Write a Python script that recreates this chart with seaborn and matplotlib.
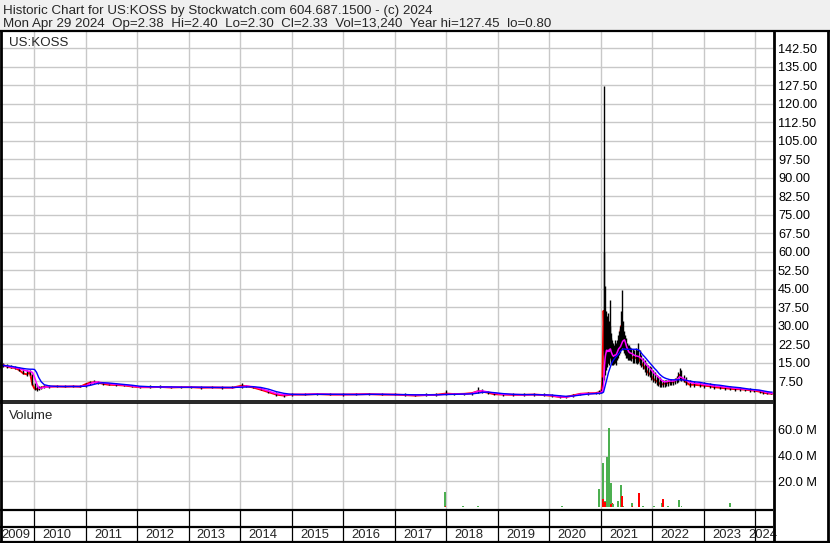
# Historic price / volume chart for US:KOSS (Stockwatch style)

import numpy as np
import pandas as pd
import matplotlib
matplotlib.use('Agg')
import matplotlib.pyplot as plt
import seaborn as sns

# ------------------------------------------------------
# DATA (decimal years, prices in $, volume in millions)
# ------------------------------------------------------

price_t = [2009.34, 2009.40, 2009.47, 2009.55, 2009.63, 2009.71, 2009.79, 2009.86, 2009.92, 2009.97,
           2010.01, 2010.05, 2010.09, 2010.14, 2010.20, 2010.30, 2010.45, 2010.60, 2010.75, 2010.90,
           2011.00, 2011.08, 2011.17, 2011.25, 2011.33, 2011.45, 2011.60, 2011.75, 2011.90,
           2012.05, 2012.25, 2012.45, 2012.65, 2012.85, 2013.05, 2013.25, 2013.45, 2013.65, 2013.85,
           2014.03, 2014.12, 2014.25, 2014.40, 2014.55, 2014.70, 2014.85,
           2015.00, 2015.25, 2015.50, 2015.75, 2016.00, 2016.25, 2016.50, 2016.75,
           2017.00, 2017.20, 2017.40, 2017.60, 2017.80, 2017.99,
           2018.15, 2018.35, 2018.50, 2018.62, 2018.70, 2018.80, 2018.92,
           2019.10, 2019.30, 2019.50, 2019.70, 2019.90,
           2020.05, 2020.20, 2020.32, 2020.45, 2020.60, 2020.75, 2020.90, 2020.97,
           2021.01, 2021.03, 2021.052, 2021.062, 2021.071, 2021.081, 2021.090, 2021.100, 2021.110,
           2021.120, 2021.129, 2021.139, 2021.148, 2021.158, 2021.168, 2021.178, 2021.187, 2021.197,
           2021.207, 2021.226, 2021.245, 2021.265, 2021.284, 2021.304, 2021.323, 2021.343, 2021.362,
           2021.382, 2021.401, 2021.420, 2021.440, 2021.459, 2021.478, 2021.498, 2021.517, 2021.537,
           2021.556, 2021.585, 2021.614, 2021.643, 2021.672, 2021.701, 2021.730, 2021.750, 2021.780,
           2021.810, 2021.847, 2021.880, 2021.910, 2021.944, 2021.980,
           2022.010, 2022.041, 2022.080, 2022.110, 2022.138, 2022.170, 2022.200, 2022.235, 2022.270,
           2022.300, 2022.332, 2022.370, 2022.400, 2022.429, 2022.470, 2022.500, 2022.526, 2022.560,
           2022.604, 2022.650, 2022.720, 2022.800, 2022.914,
           2023.010, 2023.108, 2023.200, 2023.302, 2023.400, 2023.497, 2023.600, 2023.691, 2023.790,
           2023.885, 2023.980, 2024.079, 2024.150, 2024.230, 2024.300, 2024.325]

price_hi = [15.3, 15.0, 14.6, 14.2, 13.8, 13.2, 12.4, 11.8, 12.0, 10.5,
            6.8, 5.8, 5.4, 5.6, 5.8, 5.8, 5.9, 5.8, 5.9, 5.8,
            6.6, 7.4, 7.8, 7.6, 7.2, 6.8, 6.6, 6.4, 6.0,
            5.6, 5.7, 5.8, 5.6, 5.5, 5.6, 5.6, 5.5, 5.4, 5.4,
            6.6, 6.0, 5.6, 5.0, 4.0, 3.0, 2.4,
            2.6, 2.6, 2.8, 2.5, 2.6, 2.6, 2.7, 2.6,
            2.6, 2.6, 2.4, 2.5, 2.6, 3.8,
            2.8, 2.8, 3.2, 5.2, 4.2, 3.6, 2.8,
            2.6, 2.5, 2.6, 2.8, 2.7,
            2.4, 1.8, 1.6, 2.2, 2.8, 3.0, 3.2, 4.0,
            4.2, 9.0, 127.45, 60.0, 46.0, 32.0, 28.0, 36.0, 34.0,
            30.0, 35.0, 28.0, 26.0, 32.0, 40.5, 30.0, 27.0, 25.0,
            24.0, 23.0, 22.0, 24.0, 23.0, 24.0, 26.0, 28.0, 30.0,
            36.0, 44.4, 32.0, 28.0, 26.0, 25.0, 23.0, 22.0, 22.0,
            21.5, 21.0, 20.5, 20.0, 21.0, 20.0, 22.8, 20.0, 18.0,
            17.0, 16.0, 15.0, 14.0, 13.5, 13.0,
            12.0, 11.0, 10.0, 9.5, 9.0, 8.5, 8.0, 8.0, 7.8,
            8.0, 8.5, 8.2, 8.0, 8.6, 9.5, 11.0, 12.6, 12.0,
            10.0, 9.0, 8.0, 7.5, 7.2,
            7.0, 6.6, 6.4, 6.0, 5.6, 5.4, 5.0, 5.2, 4.8,
            4.8, 4.4, 4.0, 3.6, 3.0, 2.6, 2.40]

price_lo = [12.8, 13.2, 12.9, 12.6, 12.5, 11.6, 10.2, 9.6, 10.0, 5.8,
            4.0, 3.6, 3.8, 4.4, 4.8, 4.8, 5.0, 4.9, 5.0, 5.0,
            5.2, 6.0, 6.6, 6.4, 6.0, 5.8, 5.6, 5.4, 5.0,
            4.6, 4.8, 4.7, 4.6, 4.7, 4.7, 4.4, 4.5, 4.4, 4.5,
            4.8, 5.0, 4.6, 3.8, 2.6, 1.6, 1.2,
            1.6, 1.7, 1.8, 1.7, 1.6, 1.8, 1.8, 1.7,
            1.7, 1.5, 1.3, 1.4, 1.5, 1.8,
            1.8, 1.9, 2.0, 2.8, 2.8, 2.4, 1.8,
            1.6, 1.5, 1.5, 1.6, 1.4,
            1.2, 0.8, 0.8, 1.0, 1.8, 2.0, 2.2, 2.4,
            2.6, 3.5, 8.0, 18.0, 10.0, 12.0, 12.0, 14.0, 16.0,
            13.0, 15.0, 15.0, 14.0, 16.0, 18.0, 17.0, 16.0, 15.0,
            14.0, 14.0, 14.5, 15.0, 14.0, 16.0, 17.0, 18.0, 19.0,
            20.0, 21.0, 20.0, 19.0, 18.0, 17.0, 17.0, 16.0, 16.0,
            16.0, 15.5, 15.0, 15.0, 15.0, 14.5, 15.0, 14.0, 13.0,
            12.5, 11.0, 10.0, 9.5, 9.0, 8.0,
            7.0, 6.5, 6.0, 5.5, 5.2, 5.0, 5.0, 5.2, 5.5,
            5.5, 6.0, 6.0, 6.0, 6.2, 6.5, 7.0, 8.0, 7.5,
            7.0, 6.0, 5.0, 5.0, 5.0,
            4.8, 4.6, 4.4, 4.2, 4.0, 3.8, 3.6, 3.6, 3.4,
            3.2, 3.0, 2.8, 2.4, 2.2, 2.2, 2.30]

price_cl = [13.2, 14.0, 13.4, 13.0, 12.8, 12.0, 10.6, 10.2, 11.0, 6.0,
            4.4, 4.2, 4.4, 4.8, 5.2, 5.2, 5.3, 5.2, 5.3, 5.2,
            6.2, 6.8, 7.0, 6.8, 6.4, 6.0, 5.9, 5.7, 5.3,
            5.0, 5.0, 5.1, 4.9, 5.0, 5.0, 4.8, 4.9, 4.8, 4.8,
            5.6, 5.4, 4.9, 4.0, 3.0, 2.0, 1.6,
            2.0, 2.0, 2.2, 2.0, 2.0, 2.1, 2.2, 2.0,
            2.0, 1.8, 1.6, 1.8, 1.9, 2.4,
            2.2, 2.3, 2.6, 3.4, 3.2, 2.8, 2.2,
            2.0, 1.9, 1.9, 2.0, 1.8,
            1.5, 1.0, 1.0, 1.6, 2.3, 2.5, 2.6, 3.0,
            3.2, 8.0, 36.0, 30.0, 20.0, 22.0, 16.0, 26.0, 22.0,
            18.0, 24.0, 20.0, 18.0, 22.0, 26.0, 22.0, 20.0, 18.0,
            17.0, 16.0, 17.0, 18.0, 17.0, 19.0, 21.0, 22.0, 23.0,
            28.0, 30.0, 25.0, 23.0, 21.0, 20.0, 19.0, 18.0, 18.5,
            18.0, 17.5, 17.0, 16.5, 17.0, 16.5, 17.0, 16.0, 15.0,
            14.0, 13.0, 12.0, 11.0, 10.5, 9.5,
            8.5, 8.0, 7.5, 7.0, 6.5, 6.0, 6.2, 6.5, 6.6,
            6.8, 7.0, 7.0, 7.0, 7.4, 8.0, 9.0, 10.0, 9.0,
            8.0, 7.0, 6.0, 6.0, 5.8,
            5.6, 5.4, 5.0, 4.8, 4.6, 4.4, 4.2, 4.2, 4.0,
            3.8, 3.6, 3.2, 2.8, 2.5, 2.4, 2.33]

ma_fast = [13.8, 13.9, 13.6, 13.2, 12.9, 12.6, 12.0, 11.6, 11.4, 11.0,
           9.0, 6.5, 4.6, 4.6, 5.0, 5.2, 5.3, 5.3, 5.3, 5.3,
           5.6, 6.4, 7.0, 7.1, 6.8, 6.4, 6.1, 5.9, 5.5,
           5.1, 5.1, 5.1, 5.0, 5.0, 5.0, 4.9, 4.9, 4.9, 4.8,
           5.2, 5.5, 5.2, 4.4, 3.4, 2.4, 1.9,
           2.0, 2.1, 2.2, 2.1, 2.0, 2.1, 2.1, 2.1,
           2.0, 1.9, 1.8, 1.8, 1.9, 2.1,
           2.2, 2.2, 2.5, 3.4, 3.5, 3.1, 2.6,
           2.1, 2.0, 1.9, 2.0, 1.9,
           1.6, 1.1, 1.0, 1.4, 2.2, 2.4, 2.5, 2.7,
           3.0, 3.4, 6.0, 10.0, 14.0, 16.5, 18.0, 19.0, 20.0,
           19.5, 19.5, 20.0, 20.0, 19.5, 20.0, 20.5, 20.5, 19.5,
           19.0, 18.0, 17.5, 18.0, 18.0, 18.5, 19.5, 20.5, 21.0,
           21.5, 22.5, 23.5, 24.0, 24.2, 23.0, 21.5, 20.5, 19.5,
           19.0, 18.8, 18.5, 18.0, 17.8, 17.6, 17.5, 17.2, 16.8,
           16.2, 15.2, 14.2, 13.5, 12.8, 12.0,
           11.2, 10.5, 9.8, 9.2, 8.6, 8.0, 7.4, 7.2, 7.2,
           7.4, 7.5, 7.5, 7.5, 7.6, 8.0, 8.6, 9.2, 9.0,
           8.5, 7.8, 7.0, 6.6, 6.4,
           6.0, 5.8, 5.5, 5.3, 5.0, 4.8, 4.6, 4.4, 4.2,
           4.0, 3.8, 3.6, 3.2, 2.8, 2.6, 2.5]

ma_slow = [13.8, 13.8, 13.7, 13.5, 13.2, 12.9, 12.6, 12.4, 12.3, 12.3,
           12.2, 11.0, 9.0, 7.2, 6.0, 5.5, 5.3, 5.3, 5.3, 5.3,
           5.4, 5.7, 6.2, 6.6, 6.8, 6.7, 6.4, 6.1, 5.8,
           5.4, 5.2, 5.1, 5.1, 5.0, 5.0, 5.0, 4.9, 4.9, 4.9,
           5.0, 5.1, 5.2, 4.9, 4.2, 3.2, 2.5,
           2.1, 2.0, 2.1, 2.1, 2.1, 2.0, 2.1, 2.1,
           2.0, 2.0, 1.9, 1.9, 1.9, 2.0,
           2.1, 2.2, 2.3, 2.6, 2.9, 3.0, 2.8,
           2.4, 2.1, 2.0, 2.0, 1.9,
           1.8, 1.5, 1.3, 1.4, 1.8, 2.2, 2.4, 2.5,
           2.6, 2.7, 3.0, 3.8, 4.6, 5.4, 6.2, 7.0, 7.8,
           8.6, 9.4, 10.2, 11.0, 11.6, 12.2, 12.8, 13.4, 14.0,
           14.6, 15.4, 16.0, 16.6, 17.1, 17.6, 18.0, 18.5, 19.0,
           19.6, 20.0, 20.4, 20.5, 20.5, 20.4, 20.4, 20.4, 20.4,
           20.4, 20.4, 20.4, 20.4, 20.4, 20.3, 20.2, 19.8, 19.0,
           18.2, 17.4, 16.6, 15.8, 15.0, 14.2,
           13.4, 12.6, 11.8, 11.0, 10.3, 9.7, 9.2, 8.8, 8.5,
           8.3, 8.1, 8.0, 8.0, 8.0, 8.0, 8.0, 8.0, 8.0,
           7.9, 7.8, 7.5, 7.2, 7.0,
           6.6, 6.3, 6.0, 5.8, 5.5, 5.2, 5.0, 4.8, 4.5,
           4.2, 4.0, 3.8, 3.5, 3.2, 3.0, 3.0]

vol_t = [2017.975, 2017.985, 2018.33, 2018.62, 2020.25, 2020.49, 2020.968,
         2021.040, 2021.045, 2021.080, 2021.085, 2021.123, 2021.162, 2021.190, 2021.200,
         2021.226, 2021.240, 2021.337, 2021.395, 2021.410, 2021.440, 2021.608, 2021.615,
         2021.744, 2021.810, 2022.030, 2022.190, 2022.210, 2022.310, 2022.520, 2022.565, 2023.510]
vol_m = [12.0, 0.8, 0.5, 0.6, 1.0, 0.4, 14.3,
         34.3, 6.6, 5.0, 4.0, 38.5, 61.0, 18.6, 2.5,
         3.0, 2.0, 5.0, 17.0, 8.3, 1.0, 3.0, 1.0,
         10.6, 0.5, 0.5, 3.0, 6.6, 0.5, 5.5, 0.5, 3.0]
vol_up = [True, False, True, True, True, True, True,
          True, False, True, False, True, True, True, False,
          False, True, True, True, False, True, True, False,
          False, True, True, True, False, True, True, True, True]

years = list(range(2010, 2025))
year_labels = [str(y) for y in range(2009, 2025)]
price_ticks = list(np.arange(7.5, 143, 7.5))
vol_ticks = [20, 40, 60]

title1 = 'Historic Chart for US:KOSS by Stockwatch.com 604.687.1500 - (c) 2024'
title2 = ('Mon Apr 29 2024  Op=2.38  Hi=2.40  Lo=2.30  Cl=2.33  Vol=13,240  '
          'Year hi=127.45  lo=0.80')

# ------------------------------------------------------
# SETUP
# ------------------------------------------------------

sns.set_style('white')
plt.rcParams['font.family'] = ['Liberation Sans', 'DejaVu Sans']

W, H = 830, 543
GRID = '#c8c8c8'
X0, X1 = 2009.34, 2024.34

fig = plt.figure(figsize=(8.3, 5.43), dpi=100)

# pixel box -> figure fraction
def box(x0, y0, x1, y1):
	return [x0 / W, 1 - y1 / H, (x1 - x0) / W, (y1 - y0) / H]

ax_p = fig.add_axes(box(0, 31, 773, 400))
ax_v = fig.add_axes(box(0, 403, 773, 509))
ax_s = fig.add_axes(box(0, 509, 773, 542))
ax_f = fig.add_axes([0, 0, 1, 1], zorder=10)

df = pd.DataFrame({'t': price_t, 'hi': price_hi, 'lo': price_lo, 'cl': price_cl,
                   'fast': ma_fast, 'slow': ma_slow})

# ------------------------------------------------------
# PRICE PANEL
# ------------------------------------------------------

sns.lineplot(data=df, x='t', y='cl', ax=ax_p, color='#ff0000', lw=1.4, estimator=None, sort=False, zorder=2)
ax_p.vlines(df['t'], df['lo'], df['hi'], color='black', lw=1.0, zorder=3)
sns.lineplot(data=df, x='t', y='fast', ax=ax_p, color='#ff00ff', lw=1.1, estimator=None, sort=False, zorder=4)
sns.lineplot(data=df, x='t', y='slow', ax=ax_p, color='#0000ff', lw=1.0, estimator=None, sort=False, zorder=5)

ax_p.set(xlabel='', ylabel='', xlim=(X0, X1), ylim=(-0.2, 149.6))
ax_p.set_xticks(years)
ax_p.set_yticks(price_ticks)
ax_p.set_yticklabels(['%.2f' % v for v in price_ticks])
ax_p.yaxis.tick_right()
ax_p.grid(True, color=GRID, lw=1.0)
ax_p.set_axisbelow(True)
ax_p.tick_params(axis='y', length=0, pad=3.6, labelsize=9.2, labelcolor='black')
ax_p.tick_params(axis='x', length=0, labelbottom=False)
for s in ax_p.spines.values():
	s.set_visible(False)
ax_p.text(0.012, 0.985, 'US:KOSS', transform=ax_p.transAxes, fontsize=9.6, va='top', ha='left')

# ------------------------------------------------------
# VOLUME PANEL
# ------------------------------------------------------

vol_colors = ['#4caf50' if u else '#ff0000' for u in vol_up]
ax_v.bar(vol_t, vol_m, width=0.035, color=vol_colors, linewidth=0, zorder=3)
ax_v.set(xlim=(X0, X1), ylim=(-1.54, 80.77))
ax_v.set_xticks(years)
ax_v.set_yticks(vol_ticks)
ax_v.set_yticklabels(['%.1f M' % v for v in vol_ticks])
ax_v.yaxis.tick_right()
ax_v.grid(True, color=GRID, lw=1.0)
ax_v.set_axisbelow(True)
ax_v.tick_params(axis='y', length=0, pad=3.6, labelsize=9.2, labelcolor='black')
ax_v.tick_params(axis='x', length=0, labelbottom=False)
for s in ax_v.spines.values():
	s.set_visible(False)
ax_v.text(0.012, 0.93, 'Volume', transform=ax_v.transAxes, fontsize=9.6, va='top', ha='left')

# ------------------------------------------------------
# YEAR STRIP
# ------------------------------------------------------

ax_s.set(xlim=(X0, X1), ylim=(0, 1))
ax_s.axis('off')
ax_s.vlines(years, 0, 1, color='black', lw=0.9)
for lab in year_labels:
	y = int(lab)
	if y == 2009:
		ax_s.text(X0 + 0.02, 0.21, lab, fontsize=9.4, ha='left', va='center')
	elif y == 2024:
		ax_s.text(2024.14, 0.21, lab, fontsize=9.4, ha='center', va='center')
	else:
		ax_s.text(y + 0.44, 0.21, lab, fontsize=9.4, ha='center', va='center')

# ------------------------------------------------------
# FRAME AND HEADER (pixel coordinates)
# ------------------------------------------------------

ax_f.set_xlim(0, W)
ax_f.set_ylim(H, 0)
ax_f.axis('off')
ax_f.patch.set_facecolor('none')
ax_f.add_patch(plt.Rectangle((0, 0), W, 30, color='#f0f0f0', zorder=0))
ax_f.text(3, 14, title1, fontsize=9.6, va='baseline', ha='left')
ax_f.text(3, 27.5, title2, fontsize=9.6, va='baseline', ha='left')

k = dict(color='black', solid_capstyle='butt')
ax_f.plot([0, W], [30.5, 30.5], lw=1.6, **k)
ax_f.plot([1, 1], [30, H], lw=2.0, **k)
ax_f.plot([773.5, 773.5], [30, H], lw=2.0, **k)
ax_f.plot([828, 828], [30, H], lw=2.0, **k)
ax_f.plot([0, W], [542, 542], lw=1.6, **k)
ax_f.plot([0, 773], [400.5, 400.5], lw=1.2, **k)
ax_f.plot([0, 773], [403, 403], lw=1.2, **k)
ax_f.plot([0, 773], [509.5, 509.5], lw=1.6, **k)
ax_f.plot([0, 773], [527, 527], lw=1.6, **k)

plt.savefig('out.png', dpi=100)
plt.close('all')
